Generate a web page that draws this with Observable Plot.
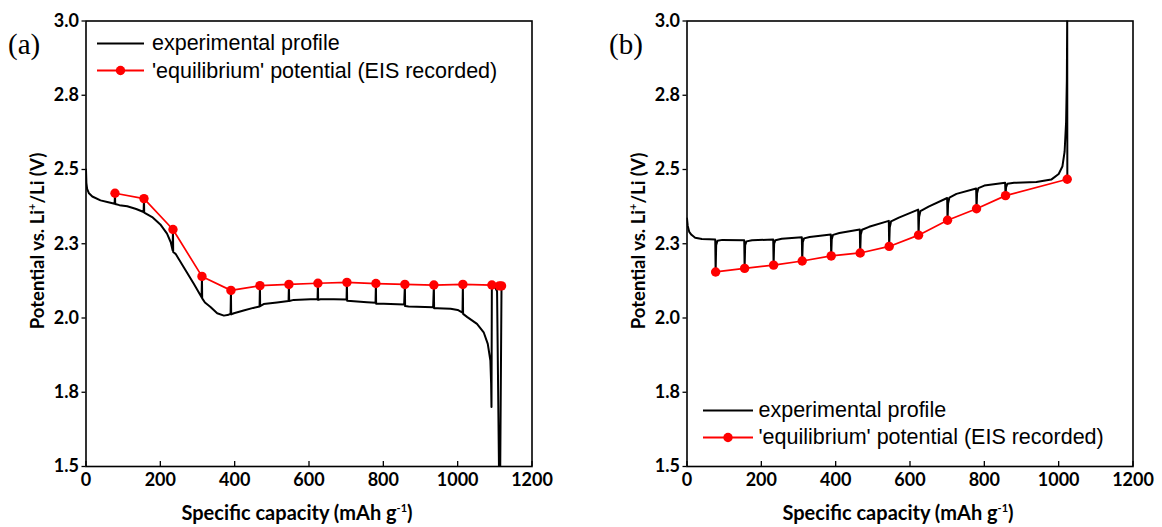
<!DOCTYPE html>
<html><head><meta charset="utf-8">
<script src="https://cdn.jsdelivr.net/npm/d3@7"></script>
<script src="https://cdn.jsdelivr.net/npm/@observablehq/plot@0.6"></script>
<style>
body{margin:0;background:#fff;}
#wrap{position:relative;width:1162px;height:527px;overflow:hidden;background:#fff;}
.panel{position:absolute;top:0;}
.ytitle{position:absolute;font-family:Lato,sans-serif;font-weight:bold;font-size:18.5px;white-space:nowrap;transform:translate(-50%,-50%) rotate(-90deg);color:#000;}
.xtitle{position:absolute;font-family:Lato,sans-serif;font-weight:bold;font-size:20px;white-space:nowrap;transform:translate(-50%,-50%);color:#000;}
sup{font-size:11px;vertical-align:8px;line-height:0;}
.plabel{position:absolute;font-family:"Liberation Serif",serif;font-size:29px;transform:translateY(-50%);color:#000;}
.leg{position:absolute;display:flex;align-items:center;font-family:"Liberation Sans",Arial,sans-serif;font-size:21.5px;white-space:nowrap;transform:translateY(-50%);color:#000;}
.leg svg{display:block;}
</style></head>
<body>
<div id="wrap"></div>
<script>
// ---- data ----
const xTicks = [0, 200, 400, 600, 800, 1000, 1200];
const yTicks = [1.5, 1.75, 2.0, 2.25, 2.5, 2.75, 3.0];
const yTickLabels = ["1.5", "1.8", "2.0", "2.3", "2.5", "2.8", "3.0"];
const seriesNames = ["experimental profile", "'equilibrium' potential (EIS recorded)"];

// panel (a): discharge
const capA = [0,1,3,8,17,39,60,77,78,78.6,90,111,135,155,156,156.6,178,200,218,228,233,234,234.6,241,263,290,311,312,312.6,320,335,353,371,384,389,390,390.6,398,424,450,467,468,468.6,478,514,545,546,546.6,559,604,623,624,624.6,631,667,701,702,702.6,712,756,779,780,780.6,801,856,858,858.6,868,934,936,936.6,945,981,1000,1013,1014,1014.6,1026,1052,1070,1081,1088,1090,1091,1092,1100,1106,1112,1114,1118];
const potA = [2.50,2.455,2.435,2.42,2.409,2.396,2.390,2.385,2.420,2.384,2.380,2.376,2.367,2.357,2.402,2.355,2.340,2.315,2.284,2.255,2.228,2.298,2.222,2.216,2.171,2.115,2.070,2.140,2.066,2.052,2.037,2.016,2.008,2.011,2.015,2.093,2.012,2.016,2.025,2.034,2.039,2.109,2.040,2.047,2.052,2.057,2.113,2.057,2.061,2.063,2.063,2.117,2.061,2.063,2.063,2.0625,2.120,2.058,2.057,2.053,2.051,2.116,2.048,2.048,2.0455,2.113,2.040,2.039,2.0365,2.111,2.033,2.033,2.031,2.027,2.018,2.113,2.014,2.003,1.980,1.952,1.913,1.857,1.780,1.700,2.111,2.106,2.090,1.40,1.40,2.108];
const eqCapA = [78,156,234,312,390,468,546,624,702,780,858,936,1014,1092,1112,1118];
const eqPotA = [2.420,2.402,2.298,2.140,2.093,2.109,2.113,2.117,2.120,2.116,2.113,2.111,2.113,2.111,2.108,2.108];

// panel (b): charge
const capB = [0,2,6,12,22,40,60,76,77,78.5,82,95,154,155,156.5,160,175,232,233,234.5,238,255,309,310,311.5,315,330,387,388,389.5,393,410,465,466,467.5,471,490,543,544,545.5,549,570,622,623,624.5,628,650,700,701,702.5,706,725,778,779,780.5,784,800,856,857,858.5,862,880,940,980,1000,1010,1016,1020,1022,1023,1023.3];
const potB = [2.335,2.31,2.29,2.28,2.27,2.266,2.265,2.264,2.155,2.245,2.26,2.263,2.262,2.167,2.245,2.258,2.262,2.264,2.178,2.25,2.262,2.267,2.272,2.192,2.255,2.268,2.273,2.281,2.209,2.265,2.28,2.286,2.298,2.219,2.28,2.297,2.307,2.327,2.241,2.305,2.325,2.338,2.365,2.279,2.34,2.36,2.375,2.404,2.329,2.385,2.405,2.418,2.436,2.368,2.42,2.437,2.446,2.455,2.412,2.44,2.452,2.455,2.458,2.466,2.485,2.51,2.56,2.66,2.8,3.02,2.467];
const eqCapB = [77,155,233,310,388,466,544,623,701,779,857,1023];
const eqPotB = [2.155,2.167,2.178,2.192,2.209,2.219,2.241,2.279,2.329,2.368,2.412,2.467];

// ---- drawing ----
const W = 581, H = 527;
function makePanel(cap, pot, eqCap, eqPot, mL, mR) {
  const prof = cap.map((c, i) => ({x: c, y: pot[i]}));
  const eq = eqCap.map((c, i) => ({x: c, y: eqPot[i]}));
  return Plot.plot({
    width: W, height: H,
    marginLeft: mL, marginRight: mR, marginTop: 20.5, marginBottom: 61,
    x: {domain: [0, 1200], axis: null},
    y: {domain: [1.5, 3.0], axis: null},
    style: {fontFamily: "Lato, sans-serif", fontSize: "18px", fontWeight: "bold", color: "#000", background: "transparent", overflow: "visible"},
    marks: [
      Plot.line(prof, {x: "x", y: "y", stroke: "#000", strokeWidth: 2, clip: true}),
      Plot.line(eq, {x: "x", y: "y", stroke: "#ff0000", strokeWidth: 1.7}),
      Plot.dot(eq, {x: "x", y: "y", fill: "#ff0000", r: 4.7}),
      Plot.axisX(xTicks, {label: null, tickSize: 5, dy: -5, tickFormat: () => "", strokeWidth: 1.3}),
      Plot.axisX(xTicks, {label: null, tickSize: 0, tickPadding: 7, tickFormat: d => String(d)}),
      Plot.axisY(yTicks, {label: null, tickSize: 4, tickPadding: 3, strokeWidth: 1.3, tickFormat: d => yTickLabels[yTicks.indexOf(d)]}),
      Plot.frame({stroke: "#000", strokeWidth: 1.6})
    ]
  });
}

const wrap = document.getElementById("wrap");
const pa = makePanel(capA, potA, eqCapA, eqPotA, 85.5, W - 531.5);
const pb = makePanel(capB, potB, eqCapB, eqPotB, 686.5 - W, W - (1132.5 - W));
pa.classList.add("panel"); pa.style.left = "0px";
pb.classList.add("panel"); pb.style.left = W + "px";
wrap.appendChild(pa); wrap.appendChild(pb);

function addHTML(cls, html, left, top) {
  const d = document.createElement("div");
  d.className = cls; d.innerHTML = html;
  d.style.left = left + "px"; d.style.top = top + "px";
  wrap.appendChild(d);
  return d;
}
const yTitle = "Potential vs. Li<sup>+</sup>/Li (V)";
const xTitle = "Specific capacity (mAh g<sup>-1</sup>)";
addHTML("ytitle", yTitle, 37, 241);
addHTML("ytitle", yTitle, 638, 241);
addHTML("xtitle", xTitle, 297, 512);
addHTML("xtitle", xTitle, 898, 512);
addHTML("plabel", "(a)", 8, 44);
addHTML("plabel", "(b)", 609, 44);

function legendRow(left, top, len, gap, withDot, color, name) {
  const svg = `<svg width="${len}" height="14"><line x1="0" x2="${len}" y1="7" y2="7" stroke="${color}" stroke-width="2"/>` +
    (withDot ? `<circle cx="${len/2}" cy="7" r="4.7" fill="${color}"/>` : "") + `</svg>`;
  addHTML("leg", svg + `<span style="margin-left:${gap}px">${name}</span>`, left, top);
}
legendRow(97, 43.3, 47, 8, false, "#000", seriesNames[0]);
legendRow(97, 70.6, 47, 8, true, "#ff0000", seriesNames[1]);
legendRow(702.5, 410.3, 50, 6, false, "#000", seriesNames[0]);
legendRow(702.5, 437, 50, 6, true, "#ff0000", seriesNames[1]);
</script>
</body></html>
